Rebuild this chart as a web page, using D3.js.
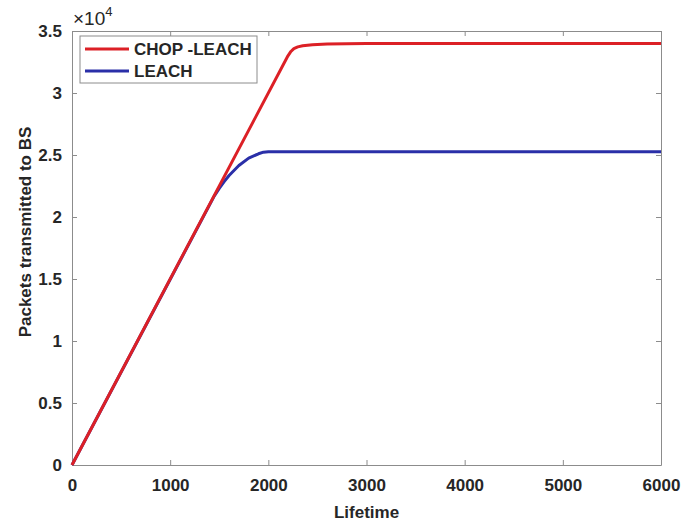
<!DOCTYPE html>
<html>
<head>
<meta charset="utf-8">
<script src="https://cdn.jsdelivr.net/npm/d3@7"></script>
<style>
  body { margin: 0; background: #fff; }
  text { font-family: "Liberation Sans", Arial, sans-serif; font-weight: bold; fill: #262626; }
</style>
</head>
<body>
<div id="chart"></div>
<script>
// series (lifetime, packets)
const chopLifetime = [0, 2200, 2230, 2260, 2300, 2350, 2450, 2600, 3000, 6000];
const chopPackets  = [0, 33000, 33350, 33580, 33720, 33810, 33900, 33960, 34000, 34000];
const leachLifetime = [0, 1450, 1500, 1550, 1600, 1700, 1800, 1900, 1950, 2000, 6000];
const leachPackets  = [0, 21700, 22300, 22850, 23350, 24150, 24750, 25100, 25230, 25270, 25270];

const seriesNames = ["CHOP -LEACH", "LEACH"];
const xTicks = [0, 1000, 2000, 3000, 4000, 5000, 6000];
const yTicks = [0, 5000, 10000, 15000, 20000, 25000, 30000, 35000];

const width = 683, height = 523;
const margin = { top: 31, right: 22, bottom: 58, left: 72 };

let svg = d3.select("#chart")
    .append("svg")
    .attr("width", width)
    .attr("height", height);

let x = d3.scaleLinear().domain([0, 6000]).range([margin.left, width - margin.right]);
let y = d3.scaleLinear().domain([0, 35000]).range([height - margin.bottom, margin.top]);

const axisColor = "#8c8c8c";
const tickLen = 5;

// bottom and left axes
svg.append("g")
    .attr("transform", `translate(0,${y(0)})`)
    .call(d3.axisBottom(x).tickValues(xTicks).tickSizeInner(-tickLen).tickSizeOuter(0).tickPadding(14)
        .tickFormat(d3.format("d")));
svg.append("g")
    .attr("transform", `translate(${x(0)},0)`)
    .call(d3.axisLeft(y).tickValues(yTicks).tickSizeInner(-tickLen).tickSizeOuter(0).tickPadding(10)
        .tickFormat(d => d3.format("")(d / 10000)));
// top and right mirror ticks
svg.append("g")
    .attr("transform", `translate(0,${y(35000)})`)
    .call(d3.axisTop(x).tickValues(xTicks).tickSizeInner(-tickLen).tickSizeOuter(0).tickFormat(""));
svg.append("g")
    .attr("transform", `translate(${x(6000)},0)`)
    .call(d3.axisRight(y).tickValues(yTicks).tickSizeInner(-tickLen).tickSizeOuter(0).tickFormat(""));

svg.selectAll(".domain, .tick line").attr("stroke", axisColor);
svg.selectAll(".tick text").style("font-size", "17px").style("font-family", "Liberation Sans, Arial, sans-serif")
    .style("font-weight", "bold").attr("fill", "#262626");

// multiplier
let mult = svg.append("text")
    .attr("x", x(0) + 1)
    .attr("y", 25)
    .style("font-size", "19px")
    .style("font-weight", "normal");
mult.append("tspan").text("\u00d710");
mult.append("tspan").attr("dy", -9).style("font-size", "13px").text("4");

// axis labels
svg.append("text")
    .attr("x", (x(0) + x(6000)) / 2)
    .attr("y", 518)
    .attr("text-anchor", "middle")
    .style("font-size", "17px")
    .text("Lifetime");
svg.append("text")
    .attr("transform", `translate(31,232) rotate(-90)`)
    .attr("text-anchor", "middle")
    .style("font-size", "17px")
    .text("Packets transmitted to BS");

// lines
let line = d3.line().x(d => x(d[0])).y(d => y(d[1]));
let leachData = leachLifetime.map((t, i) => [t, leachPackets[i]]);
let chopData = chopLifetime.map((t, i) => [t, chopPackets[i]]);
const colors = ["#dc2026", "#2a2fa8"];

svg.append("path").datum(leachData)
    .attr("d", line).attr("fill", "none")
    .attr("stroke", colors[1]).attr("stroke-width", 3).attr("stroke-linejoin", "round");
svg.append("path").datum(chopData)
    .attr("d", line).attr("fill", "none")
    .attr("stroke", colors[0]).attr("stroke-width", 3).attr("stroke-linejoin", "round");

// legend
let legend = svg.append("g");
legend.append("rect")
    .attr("x", 80).attr("y", 36).attr("width", 177).attr("height", 47)
    .attr("fill", "#fff").attr("stroke", axisColor).attr("stroke-width", 1);
seriesNames.forEach((name, i) => {
    let ly = 49 + i * 22;
    legend.append("line")
        .attr("x1", 85).attr("x2", 129).attr("y1", ly).attr("y2", ly)
        .attr("stroke", colors[i]).attr("stroke-width", 3);
    legend.append("text")
        .attr("x", 134).attr("y", ly + 6)
        .style("font-size", "17px")
        .text(name);
});
</script>
</body>
</html>
